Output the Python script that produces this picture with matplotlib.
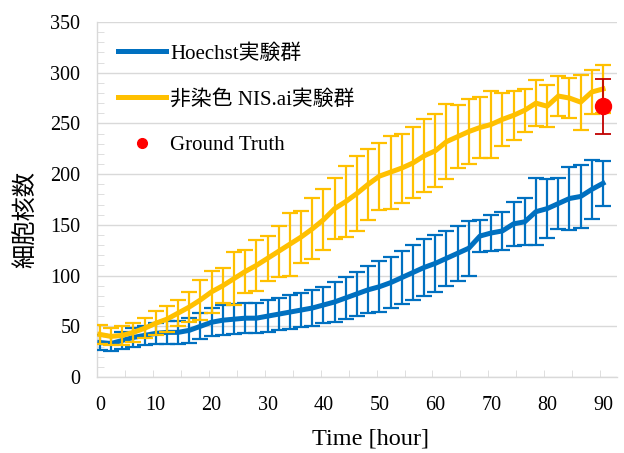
import numpy as np
import matplotlib
matplotlib.use('Agg')
import matplotlib.pyplot as plt
from matplotlib.lines import Line2D

# data (time every 2 hours)
time_h = list(range(0, 92, 2))

hoechst = [34, 33, 36, 39, 41, 43, 44, 44, 46, 50,
           54, 56, 57, 58, 58, 60, 62, 64, 66, 68,
           71, 74, 78, 82, 86, 89, 93, 98, 103, 108,
           112, 117, 122, 127, 139, 142, 144, 151, 153, 163,
           166, 171, 176, 178, 185, 191]
hoechst_err = [7, 7, 8, 9, 9, 10, 11, 11, 12, 13,
               14, 15, 15, 15, 15, 16, 16, 17, 17, 18,
               18, 20, 21, 22, 23, 25, 25, 26, 27, 28,
               28, 27, 27, 27, 16, 18, 19, 22, 23, 33,
               29, 25, 31, 31, 29, 22]

nis = [42, 40, 41, 44, 48, 53, 57, 63, 69, 76,
       84, 90, 97, 104, 110, 117, 124, 131, 138, 146,
       155, 166, 173, 181, 190, 198, 202, 206, 211, 218,
       223, 232, 237, 242, 246, 249, 254, 258, 263, 270,
       267, 277, 275, 271, 281, 284]
nis_err = [9, 8, 9, 9, 10, 12, 13, 13, 15, 20,
           21, 17, 26, 21, 25, 22, 25, 31, 26, 30,
           30, 30, 35, 37, 35, 33, 36, 34, 35, 36,
           36, 37, 31, 32, 30, 33, 26, 24, 21, 23,
           21, 20, 20, 27, 22, 24]

gt_time = 90
gt_value = 267
gt_err = 27

labels = ['Hoechst実験群', '非染色 NIS.ai実験群', 'Ground Truth']

BLUE = '#0070C0'
YELLOW = '#FFC000'
GRID = '#D9D9D9'
fonts = ['Liberation Serif', 'Noto Sans CJK JP']
plt.rcParams['font.family'] = fonts

fig = plt.figure(figsize=(6.24, 4.53), dpi=100)
ax = fig.add_axes([97/624, 1-377/453, 520/624, 355/453])

ax.errorbar(time_h, hoechst, yerr=hoechst_err, color=BLUE, lw=3.6,
            elinewidth=1.6, capsize=6, capthick=1.6, zorder=3)
ax.errorbar(time_h, nis, yerr=nis_err, color=YELLOW, lw=3.6,
            elinewidth=1.6, capsize=6, capthick=1.6, zorder=4)
ax.errorbar([gt_time], [gt_value], yerr=[gt_err], fmt='o', color='#FF0000',
            ecolor='#C00000', elinewidth=1.3, capsize=6, capthick=1.3,
            markersize=11.5, zorder=5)

ax.set_xlim(-0.5, 92.5)
ax.set_ylim(0, 350)
ax.set_yticks(np.arange(0, 351, 50))
ax.set_yticks(np.arange(0, 351, 10), minor=True)
ax.set_xticks(np.arange(0, 91, 10))
ax.set_xticks(np.arange(4.5, 90, 5), minor=True)

ax.grid(axis='y', which='major', color=GRID, lw=1.0, zorder=0)
for s in ['top', 'right']:
    ax.spines[s].set_visible(False)
for s in ['left', 'bottom']:
    ax.spines[s].set_color(GRID)
    ax.spines[s].set_linewidth(1.0)

ax.tick_params(axis='both', which='major', length=0, labelsize=14.5, pad=12)
ax.tick_params(axis='y', which='minor', direction='in', length=5, color=GRID)
ax.tick_params(axis='x', which='minor', direction='in', length=5, color=GRID)
ax.tick_params(axis='x', which='major', pad=14)

ax.set_xlabel('Time [hour]', fontsize=17.5)
ax.xaxis.set_label_coords((371-97)/520, (377-429)/355)
ax.set_ylabel('細胞核数', fontsize=17.5)
ax.yaxis.set_label_coords((38-97)/520, (377-219)/355)

handles = [Line2D([], [], color=BLUE, lw=3.6),
           Line2D([], [], color=YELLOW, lw=3.6),
           Line2D([], [], color='#FF0000', marker='o', ls='none', markersize=7)]
ax.legend(handles, labels, loc='upper left', bbox_to_anchor=(0.04, 0.938),
          frameon=False, fontsize=15, handlelength=2.3, handletextpad=0.2,
          labelspacing=1.25, borderaxespad=0, borderpad=0)

fig.savefig('out.png', dpi=100)
